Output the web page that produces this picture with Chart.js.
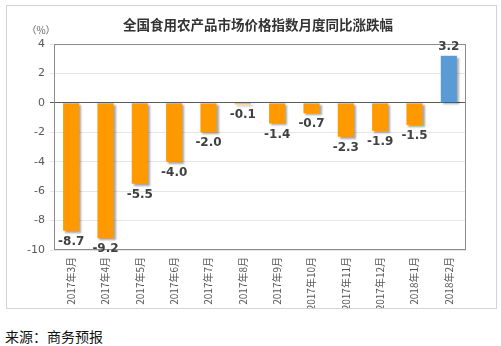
<!DOCTYPE html>
<html>
<head>
<meta charset="utf-8">
<title>全国食用农产品市场价格指数月度同比涨跌幅</title>
<script src="https://cdn.jsdelivr.net/npm/chart.js@4.4.0/dist/chart.umd.min.js"></script>
<style>
  body { margin: 0; background: #fff; width: 501px; height: 346px; overflow: hidden; position: relative; }
  #frame { position: absolute; left: 6px; top: 5px; width: 489px; height: 302px; border: 1px solid #d4d4d4; }
  #wrap { position: absolute; left: 0; top: 0; width: 489px; height: 302px; }
  #source { position: absolute; left: 5px; top: 326px; font: 14px "Noto Sans CJK SC", sans-serif; color: #111; }
</style>
</head>
<body>
<div id="frame"><div id="wrap"><canvas id="chart"></canvas></div></div>
<div id="source">来源：商务预报</div>
<script>
// months on the x axis
var months = ["2017年3月", "2017年4月", "2017年5月", "2017年6月", "2017年7月", "2017年8月",
              "2017年9月", "2017年10月", "2017年11月", "2017年12月", "2018年1月", "2018年2月"];
// year-on-year change, %
var changes = [-8.7, -9.2, -5.5, -4.0, -2.0, -0.1, -1.4, -0.7, -2.3, -1.9, -1.5, 3.2];
var barColors = ["#FF9900", "#FF9900", "#FF9900", "#FF9900", "#FF9900", "#FF9900",
                 "#FF9900", "#FF9900", "#FF9900", "#FF9900", "#FF9900", "#5B9BD5"];
var yMin = -10, yMax = 4, yStep = 2;

var titleText = "全国食用农产品市场价格指数月度同比涨跌幅";
var unitText = "（%）";

// title, unit, plot frame, value labels
var decor = {
  id: "decor",
  beforeDatasetsDraw: function(chart) {
    var c = chart.ctx;
    c.save();
    c.shadowColor = "rgba(0,0,0,0.35)";
    c.shadowOffsetX = 2;
    c.shadowOffsetY = 2;
    c.shadowBlur = 2;
  },
  afterDatasetsDraw: function(chart) {
    var c = chart.ctx;
    c.restore();
    var a = chart.chartArea;
    c.save();
    c.strokeStyle = "#8c8c8c";
    c.lineWidth = 1;
    c.strokeRect(a.left + 0.5, a.top + 0.5, a.right - a.left - 1, a.bottom - a.top - 1);

    c.fillStyle = "#333";
    c.font = "bold 13.5px 'Noto Sans CJK SC', sans-serif";
    c.textAlign = "center";
    c.textBaseline = "middle";
    c.fillText(titleText, 251, 19);

    c.fillStyle = "#666";
    c.font = "10px 'Noto Sans CJK SC', sans-serif";
    c.fillText(unitText, 34, 24);

    var meta = chart.getDatasetMeta(0);
    c.fillStyle = "#404040";
    c.font = "bold 12px 'DejaVu Sans', sans-serif";
    meta.data.forEach(function(bar, i) {
      var v = changes[i];
      var y = v < 0 ? bar.y + 11 : bar.y - 9;
      c.fillText(v.toFixed(1), bar.x, y);
    });
    c.restore();
  }
};

var ctx = document.getElementById("chart");
new Chart(ctx, {
  type: "bar",
  data: {
    labels: months,
    datasets: [{
      data: changes,
      backgroundColor: barColors,
      borderWidth: 0,
      barPercentage: 0.47,
      categoryPercentage: 1
    }]
  },
  options: {
    responsive: true,
    maintainAspectRatio: false,
    animation: false,
    layout: { padding: { left: 0, right: 30, top: 38, bottom: 0 } },
    plugins: { legend: { display: false }, tooltip: { enabled: false }, title: { display: false } },
    scales: {
      x: {
        grid: { display: false, drawTicks: false },
        border: { display: false },
        ticks: {
          minRotation: 90, maxRotation: 90, padding: 7, autoSkip: false,
          color: "#555", font: { size: 10, family: "'Noto Sans CJK SC', sans-serif" }
        },
        afterFit: function(s) { s.height = 58; }
      },
      y: {
        min: yMin, max: yMax,
        ticks: { stepSize: yStep, color: "#595959", padding: 5, font: { size: 11, family: "'DejaVu Sans', sans-serif" } },
        grid: {
          tickLength: 4,
          color: function(c) { return c.tick && c.tick.value === 0 ? "#5a5a5a" : "#e6e6e6"; },
          lineWidth: 1
        },
        border: { display: false },
        afterFit: function(s) { s.width = 47; }
      }
    }
  },
  plugins: [decor]
});
</script>
</body>
</html>
